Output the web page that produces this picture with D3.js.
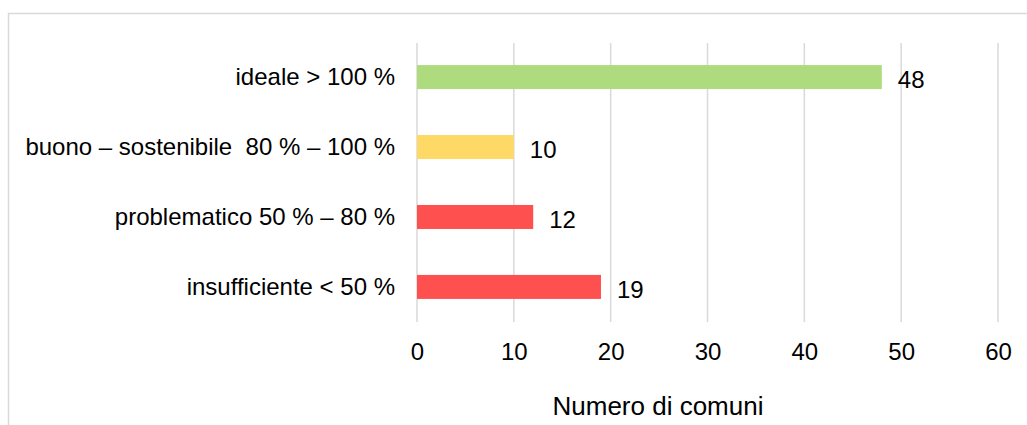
<!DOCTYPE html>
<html>
<head>
<meta charset="utf-8">
<script src="https://cdn.jsdelivr.net/npm/d3@7"></script>
<style>
  body { margin: 0; background: #fff; }
  text { font-family: "Liberation Sans", Arial, sans-serif; fill: #000; white-space: pre; }
</style>
</head>
<body>
<svg id="chart"></svg>
<script>
/* data */
var categories = ["ideale > 100 %", "buono \u2013 sostenibile  80 % \u2013 100 %", "problematico 50 % \u2013 80 %", "insufficiente < 50 %"];
var values = [48, 10, 12, 19];
var barColors = ["#addb7d", "#ffd966", "#ff5050", "#ff5050"];
var xTicks = [0, 10, 20, 30, 40, 50, 60];
var xLabel = "Numero di comuni";

var width = 1027, height = 425;
var svg = d3.select("#chart").attr("width", width).attr("height", height);

/* outer frame, cut by the page edges */
svg.append("rect")
  .attr("x", 8.5).attr("y", 13.5)
  .attr("width", width).attr("height", height)
  .attr("fill", "none").attr("stroke", "#d9d9d9").attr("stroke-width", 1.5);

var xScale = d3.scaleLinear().domain([0, 60]).range([417, 998]);
var yScale = d3.scaleBand().domain(categories).range([42, 322]).paddingInner(0.657).paddingOuter(0.33);

/* grid */
svg.append("g").selectAll("line")
  .data(xTicks).enter().append("line")
    .attr("x1", function(d) { return xScale(d); })
    .attr("x2", function(d) { return xScale(d); })
    .attr("y1", 43).attr("y2", 322)
    .attr("stroke", "#d9d9d9").attr("stroke-width", 1.5);

/* bars */
svg.append("g").selectAll("rect")
  .data(values).enter().append("rect")
    .attr("x", xScale(0))
    .attr("y", function(d, i) { return yScale(categories[i]); })
    .attr("width", function(d) { return xScale(d) - xScale(0); })
    .attr("height", yScale.bandwidth())
    .attr("fill", function(d, i) { return barColors[i]; });

/* value labels */
svg.append("g").selectAll("text")
  .data(values).enter().append("text")
    .attr("x", function(d) { return xScale(d) + 16; })
    .attr("y", function(d, i) { return yScale(categories[i]) + yScale.bandwidth() / 2; })
    .attr("dy", "0.45em")
    .style("font-size", "24px")
    .text(function(d) { return d; });

/* y axis labels */
var yAxis = d3.axisLeft(yScale).tickSize(0).tickPadding(22);
var yG = svg.append("g").attr("transform", "translate(" + xScale(0) + ",0)").call(yAxis);
yG.select(".domain").remove();
yG.selectAll("text").style("font-size", "24px").style("font-family", null);

/* x axis labels */
var xAxis = d3.axisBottom(xScale).tickValues(xTicks).tickSize(0).tickPadding(0);
var xG = svg.append("g").attr("transform", "translate(0,343)").call(xAxis);
xG.select(".domain").remove();
xG.selectAll("text").style("font-size", "24px").style("font-family", null);

svg.append("text")
  .attr("x", 658).attr("y", 415)
  .attr("text-anchor", "middle")
  .style("font-size", "26px")
  .text(xLabel);
</script>
</body>
</html>
